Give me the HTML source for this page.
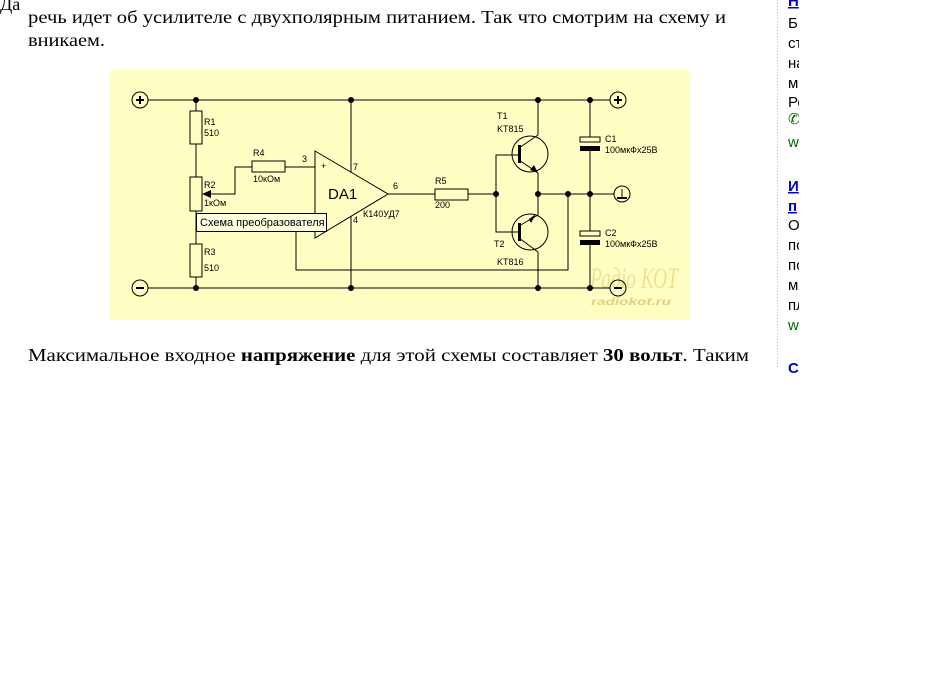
<!DOCTYPE html>
<html><head><meta charset="utf-8"><style>
html,body{margin:0;padding:0;background:#fff;width:935px;height:692px;overflow:hidden}
</style></head><body>
<svg width="935" height="692" xmlns="http://www.w3.org/2000/svg" style="position:absolute;left:0;top:0">
<g font-family="Liberation Serif, serif" font-size="18" fill="#000">
<text x="0" y="10">Да</text>
<text x="28" y="23" textLength="698" lengthAdjust="spacingAndGlyphs">речь идет об усилителе с двухполярным питанием. Так что смотрим на схему и</text>
<text x="28" y="46" textLength="77" lengthAdjust="spacingAndGlyphs">вникаем.</text>
<text x="28" y="361" textLength="721" lengthAdjust="spacingAndGlyphs">Максимальное входное <tspan font-weight="bold">напряжение</tspan> для этой схемы составляет <tspan font-weight="bold">30 вольт</tspan>. Таким</text>
</g>
<line x1="777.5" y1="0" x2="777.5" y2="368" stroke="#bbb" stroke-dasharray="1,2"/>
<g font-family="Liberation Sans, sans-serif" font-size="15">
<text x="788" y="6" font-weight="bold" fill="#0000cc" text-decoration="underline">Н</text>
<text x="788" y="28">Б</text><text x="788" y="48">ст</text><text x="788" y="68">на</text><text x="788" y="88">м</text><text x="788" y="107">Ро</text>
<text x="788" y="124" fill="#060">✆</text><text x="788" y="147" fill="#060">w</text>
<text x="788" y="191" font-weight="bold" fill="#0000cc" text-decoration="underline">И</text>
<text x="788" y="211" font-weight="bold" fill="#0000cc" text-decoration="underline">п</text>
<text x="788" y="230">О</text><text x="788" y="250">по</text><text x="788" y="270">по</text><text x="788" y="290">м</text><text x="788" y="310">пл</text>
<text x="788" y="330" fill="#060">w</text>
<text x="788" y="373" font-weight="bold" fill="#0000cc">С</text>
</g>
<rect x="799" y="0" width="10" height="380" fill="#fff"/>

<rect x="110" y="70" width="580" height="250" fill="#ffffc4"/>
<text x="590" y="288" font-family="Liberation Serif, serif" font-size="30" font-style="italic" fill="#f0e090" textLength="88" lengthAdjust="spacingAndGlyphs">Радіо КОТ</text>
<text x="591" y="305" font-family="Liberation Sans, sans-serif" font-size="10" font-style="italic" font-weight="bold" fill="#e0d080" textLength="80" lengthAdjust="spacingAndGlyphs">radiokot.ru</text>
<g stroke="#000" stroke-width="1" fill="none">
<circle cx="140" cy="100" r="8"/><circle cx="140" cy="288" r="8"/>
<circle cx="618" cy="100" r="8"/><circle cx="618" cy="288" r="8"/><circle cx="622" cy="194" r="8"/>
<line x1="148" y1="100" x2="610" y2="100"/>
<line x1="148" y1="288" x2="610" y2="288"/>
<line x1="196" y1="100" x2="196" y2="288"/>
<rect x="190" y="111" width="12" height="33" fill="#ffffc4"/>
<rect x="190" y="177" width="12" height="34" fill="#ffffc4"/>
<rect x="190" y="244" width="12" height="33" fill="#ffffc4"/>
<polyline points="210,194 235,194 235,167 252,167"/>
<rect x="252" y="161" width="33" height="11" fill="#ffffc4"/>
<line x1="285" y1="167" x2="315" y2="167"/>
<polygon points="315,151 388,194 315,238" fill="#ffffc4"/>
<line x1="351" y1="100" x2="351" y2="172"/>
<line x1="351" y1="216" x2="351" y2="288"/>
<line x1="388" y1="194" x2="435" y2="194"/>
<rect x="435" y="189" width="33" height="11" fill="#ffffc4"/>
<line x1="468" y1="194" x2="496" y2="194"/>
<polyline points="519,155 496,155 496,232 519,232"/>
<circle cx="530" cy="154" r="18"/><circle cx="530" cy="232" r="18"/>
<line x1="538" y1="100" x2="538" y2="135"/>
<line x1="519" y1="148" x2="538" y2="135"/>
<line x1="519" y1="160" x2="538" y2="173"/>
<line x1="538" y1="173" x2="538" y2="215"/>
<line x1="519" y1="226" x2="538" y2="215"/>
<line x1="519" y1="238" x2="538" y2="252"/>
<line x1="538" y1="252" x2="538" y2="288"/>
<line x1="538" y1="194" x2="614" y2="194"/>
<polyline points="568,194 568,270 296,270 296,213"/>
<line x1="590" y1="100" x2="590" y2="137"/>
<rect x="580" y="137" width="20" height="5" fill="#ffffc4"/>
<line x1="590" y1="150" x2="590" y2="231"/>
<rect x="580" y="231" width="20" height="5" fill="#ffffc4"/>
<line x1="590" y1="244" x2="590" y2="288"/>
<line x1="136" y1="100" x2="144" y2="100" stroke-width="2"/><line x1="140" y1="96" x2="140" y2="104" stroke-width="2"/>
<line x1="614" y1="100" x2="622" y2="100" stroke-width="2"/><line x1="618" y1="96" x2="618" y2="104" stroke-width="2"/>
<line x1="136" y1="288" x2="144" y2="288" stroke-width="2"/><line x1="614" y1="288" x2="622" y2="288" stroke-width="2"/>
<line x1="622" y1="189" x2="622" y2="198"/><line x1="617" y1="198" x2="627" y2="198" stroke-width="2"/>
</g>
<g fill="#000">
<rect x="518" y="145" width="3" height="18"/><rect x="518" y="223" width="3" height="18"/>
<rect x="580" y="146" width="20" height="5"/><rect x="580" y="240" width="20" height="5"/>
<polygon points="538,173 530,170 534,165"/>
<polygon points="529,219 536,214 531,223"/>
<polygon points="202,194 211,190 211,198"/>
<g>
<circle cx="196" cy="100" r="3"/><circle cx="351" cy="100" r="3"/><circle cx="538" cy="100" r="3"/><circle cx="590" cy="100" r="3"/>
<circle cx="196" cy="288" r="3"/><circle cx="351" cy="288" r="3"/><circle cx="538" cy="288" r="3"/><circle cx="590" cy="288" r="3"/>
<circle cx="496" cy="194" r="3"/><circle cx="538" cy="194" r="3"/><circle cx="568" cy="194" r="3"/><circle cx="590" cy="194" r="3"/>
</g>
</g>
<g font-family="Liberation Sans, sans-serif" font-size="9" fill="#000">
<text x="204" y="125">R1</text><text x="204" y="136">510</text>
<text x="204" y="188">R2</text><text x="204" y="206">1кОм</text>
<text x="204" y="255">R3</text><text x="204" y="271">510</text>
<text x="253" y="156">R4</text><text x="253" y="182">10кОм</text>
<text x="302" y="162">3</text><text x="321" y="169">+</text>
<text x="353" y="170">7</text><text x="353" y="223">4</text>
<text x="393" y="189">6</text>
<text x="363" y="217">К140УД7</text>
<text x="435" y="184">R5</text><text x="435" y="208">200</text>
<text x="497" y="119">T1</text><text x="497" y="132">KT815</text>
<text x="494" y="247">T2</text><text x="497" y="265">KT816</text>
<text x="605" y="142">C1</text><text x="605" y="153">100мкФх25В</text>
<text x="605" y="236">C2</text><text x="605" y="247">100мкФх25В</text>
</g>
<text x="328" y="199" font-family="Liberation Sans, sans-serif" font-size="15">DA1</text>
<rect x="196.5" y="213.5" width="130" height="18" fill="#ffffe1" stroke="#000"/>
<text x="200" y="226" font-family="Liberation Sans, sans-serif" font-size="11">Схема преобразователя</text>
</svg>
</body></html>
